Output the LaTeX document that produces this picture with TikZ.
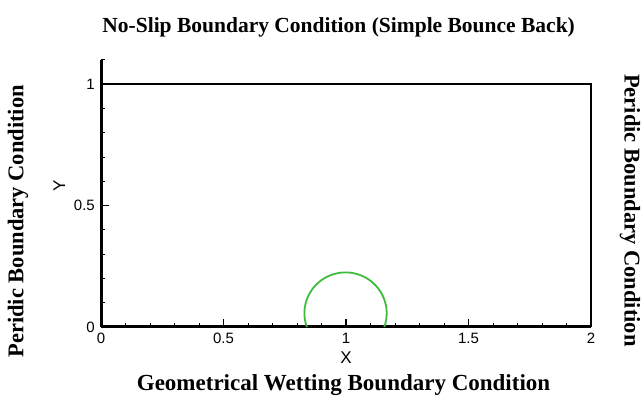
\documentclass[tikz,border=0pt]{standalone}
\usepackage{fontspec}
\setmainfont{Liberation Serif}
\setsansfont{Liberation Sans}
\usepackage{tikz}
\usetikzlibrary{positioning}
\definecolor{mygreen}{RGB}{60,190,60}
\definecolor{mydark}{RGB}{0,0,0}
\tikzset{
  bctitle/.style={font=\fontsize{21.5}{24}\selectfont\bfseries, inner sep=0pt},
  ticklabel/.style={font=\sffamily\fontsize{15}{17}\selectfont, inner sep=0pt},
  axislabel/.style={font=\sffamily\fontsize{17}{19}\selectfont, inner sep=0pt},
  frame/.style={line width=2.2pt, color=mydark},
  axisline/.style={line width=3pt, color=mydark},
  majortick/.style={line width=1.8pt},
  minortick/.style={line width=0.7pt},
  drop/.style={line width=1.8pt, color=mygreen}
}

\begin{document}
\begin{tikzpicture}
  \useasboundingbox[fill=white] (-101pt,-74pt) rectangle (543pt,327pt);
  \begin{scope}[x=245pt, y=243pt]
    % domain border
    \draw[frame] (0,1) -- (2,1) -- (2,0);
    \draw[axisline] (0,0) -- (2,0);
    \draw[axisline] (0,0) -- (0,1.1);
    % ticks
    \foreach \i in {1,...,19} \draw[minortick] (\i/10,0) -- ++(0,4pt);
    \foreach \i in {1,...,10} \draw[minortick] (0,\i/10) -- ++(4pt,0);
    \foreach \i in {0.5,1,1.5} \draw[majortick] (\i,0) -- ++(0,8pt);
    \draw[majortick] (0,0.5) -- ++(8pt,0);
    \draw[minortick] (0,1.1) -- ++(4pt,0);
    % tick labels
    \node[ticklabel, below=6pt] (x0) at (0,0) {0};
    \node[ticklabel, below=6pt] (x05) at (0.5,0) {0.5};
    \node[ticklabel, below=6pt] (x1) at (1,0) {1};
    \node[ticklabel, below=6pt] (x15) at (1.5,0) {1.5};
    \node[ticklabel, below=6pt] (x2) at (2,0) {2};
    \node[ticklabel, left=6pt] (y0) at (0,0) {0};
    \node[ticklabel, left=6pt] (y05) at (0,0.5) {0.5};
    \node[ticklabel, left=6pt] (y1) at (0,1) {1};
    \node[axislabel] (xlab) at (1,-0.125) {X};
    \node[axislabel, rotate=90] (ylab) at (-0.17,0.58) {Y};
    % droplet
    \draw[drop] (0.84,0) arc[start angle=199.7, end angle=-19.7, radius=0.168];
    % boundary conditions
    \node[bctitle] (top) at (0.97,1.235) {No-Slip Boundary Condition (Simple Bounce Back)};
    \node[bctitle, font=\fontsize{23}{26}\selectfont\bfseries] (bottom) at (0.990,-0.239) {Geometrical Wetting Boundary Condition};
    \node[bctitle, font=\fontsize{22.5}{25}\selectfont\bfseries, rotate=90] (left) at (-0.339,0.435) {Peridic Boundary Condition};
    \node[bctitle, font=\fontsize{22.5}{25}\selectfont\bfseries, rotate=-90] (right) at (2.159,0.48) {Peridic Boundary Condition};
  \end{scope}
\end{tikzpicture}
\end{document}
